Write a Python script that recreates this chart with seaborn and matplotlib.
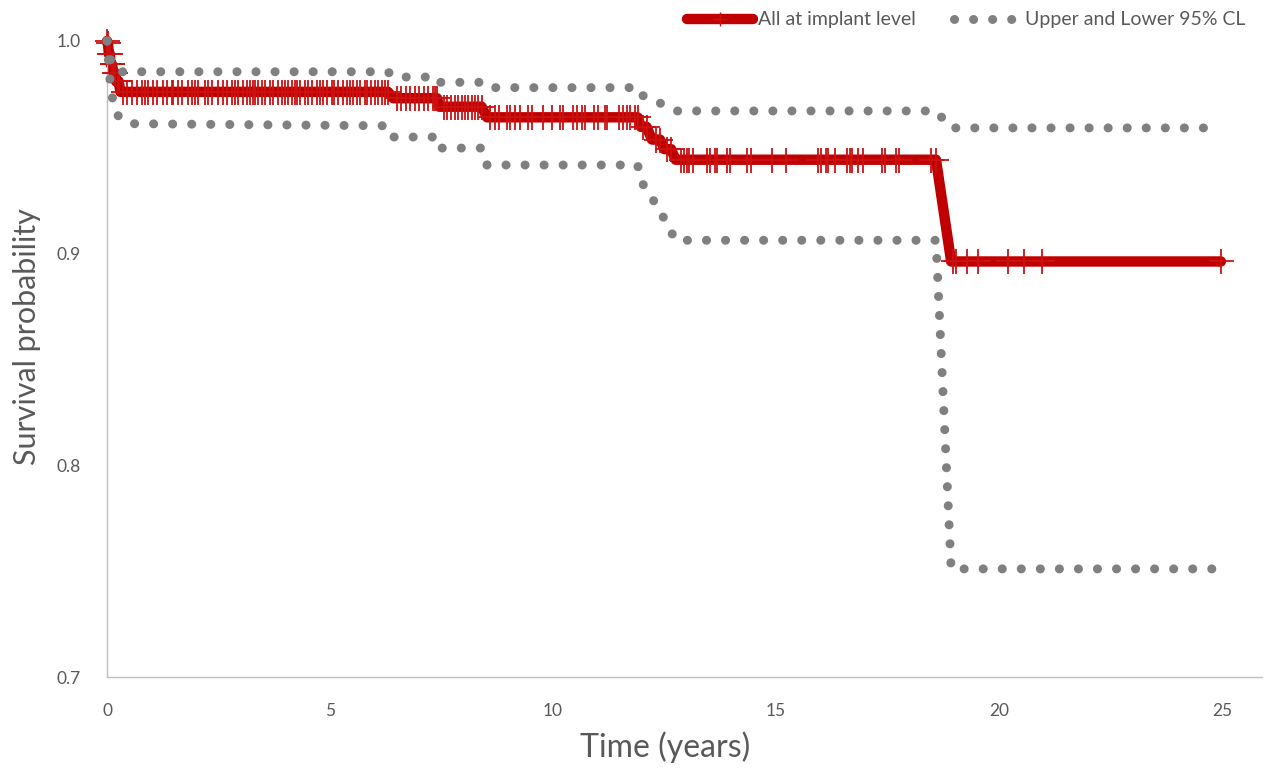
import numpy as np
import pandas as pd
import matplotlib
matplotlib.use("Agg")
import matplotlib.pyplot as plt
from matplotlib.lines import Line2D
import seaborn as sns

# Kaplan-Meier: event times and survival right after each event
event_time = [0.01, 0.04, 0.08, 0.14, 0.2, 0.3, 6.42, 7.45, 8.52,
              11.97, 12.22, 12.5, 12.75, 18.93]
event_surv = [0.999, 0.994, 0.989, 0.985, 0.981, 0.976, 0.973, 0.969, 0.964,
              0.9595, 0.9535, 0.949, 0.944, 0.896]

# censored observations (the "+" ticks)
censor_time = [
    0.0, 0.02, 0.05, 0.06, 0.1, 0.11, 0.16, 0.18, 0.24, 0.26,
    0.36, 0.45, 0.56, 0.67, 0.78, 0.85, 0.92, 1.03, 1.12, 1.25, 1.34, 1.46,
    1.48, 1.59, 1.68, 1.81, 1.9, 1.97, 2.04, 2.2, 2.26, 2.35, 2.49, 2.6, 2.69,
    2.8, 2.87, 2.94, 3.05, 3.14, 3.2, 3.27, 3.32, 3.38, 3.47, 3.54, 3.65, 3.72,
    3.83, 3.92, 3.99, 4.05, 4.14, 4.21, 4.26, 4.32, 4.44, 4.5, 4.59, 4.7, 4.77,
    4.84, 4.93, 5.04, 5.1, 5.17, 5.29, 5.38, 5.44, 5.51, 5.6, 5.67, 5.78, 5.84,
    5.93, 6.0, 6.07, 6.16, 6.23, 6.3,
    6.5, 6.6, 6.7, 6.8, 6.9, 7.0, 7.1, 7.2, 7.3, 7.35, 7.4,
    7.55, 7.63, 7.72, 7.8, 7.88, 7.95, 8.03, 8.1, 8.18, 8.26, 8.33, 8.4,
    8.58, 8.69, 8.8, 8.96, 9.03, 9.14, 9.25, 9.43, 9.54, 9.77, 9.97,
    10.15, 10.22, 10.44, 10.53, 10.66, 10.71, 10.93, 11.0, 11.16, 11.22,
    11.49, 11.56, 11.65, 11.72, 11.83, 11.9,
    12.02, 12.1, 12.3, 12.4, 12.55, 12.65,
    12.88, 12.93, 13.0, 13.06, 13.15, 13.46, 13.53, 13.64, 13.69, 13.91,
    13.98, 14.36, 14.45, 14.92, 15.23, 15.95, 16.02, 16.13, 16.17, 16.33,
    16.6, 16.67, 16.71, 16.85, 16.96, 17.38, 17.45, 17.7, 17.76, 18.48, 18.59,
    18.97, 19.04, 19.29, 19.53, 20.21, 20.56, 20.97, 24.98,
]

# 95% confidence limits (vertices)
ci_time = [0.0, 0.04, 0.08, 0.14, 0.2, 0.3, 0.5, 6.3, 6.42, 7.4, 7.45, 8.4,
           8.52, 11.9, 11.97, 12.22, 12.5, 12.75, 18.59, 18.93, 24.98]
ci_upper = [1.0, 0.995, 0.991, 0.988, 0.986, 0.9855, 0.9855, 0.9855, 0.983,
            0.983, 0.9805, 0.9805, 0.978, 0.978, 0.9745, 0.973, 0.9695, 0.967,
            0.967, 0.959, 0.959]
ci_lower = [1.0, 0.988, 0.978, 0.971, 0.966, 0.9635, 0.961, 0.960, 0.9547,
            0.9547, 0.9495, 0.9495, 0.9415, 0.9415, 0.934, 0.926, 0.916, 0.906,
            0.906, 0.751, 0.751]

x_ticks = [0, 5, 10, 15, 20, 25]
y_ticks = [0.7, 0.8, 0.9, 1.0]

RED = "#c00000"
GREY = "#808080"
TXT = "#595959"


def step_value(t):
    # KM survival at time t = value after the last event at or before t
    idx = np.searchsorted(event_time, t, side="right") - 1
    return 1.0 if idx < 0 else event_surv[idx]


censor = pd.DataFrame({"time": censor_time})
censor["surv"] = [step_value(t) for t in censor_time]
events = pd.DataFrame({"time": event_time, "surv": event_surv})
km = pd.concat([censor, events]).sort_values("time", kind="mergesort")
ci = pd.DataFrame({"time": ci_time, "upper": ci_upper, "lower": ci_lower})

sns.set_theme(style="white")
plt.rcParams["font.family"] = ["Lato", "DejaVu Sans"]

fig = plt.figure(figsize=(12.67, 7.69), dpi=100)
ax = fig.add_axes([0.0845, 0.1196, 0.9115, 0.8271])

sns.lineplot(data=km, x="time", y="surv", sort=False, estimator=None, ax=ax,
             color=RED, linewidth=7.5, solid_capstyle="round",
             solid_joinstyle="round", clip_on=False, zorder=2)
ax.plot(censor["time"], censor["surv"], linestyle="none", marker="+",
        markersize=18, markeredgewidth=1.3, color="#cc1111", clip_on=False,
        zorder=3)
dots = (0, (0.01, 2.1))
for col in ["upper", "lower"]:
    sns.lineplot(data=ci, x="time", y=col, sort=False, estimator=None, ax=ax,
                 color=GREY, linewidth=6.5, linestyle=dots,
                 dash_capstyle="round", clip_on=False, zorder=4)

ax.set_xlim(0, 25.9)
ax.set_ylim(0.7, 1.0)
ax.set_xticks(x_ticks)
ax.set_xticklabels([str(v) for v in x_ticks])
ax.set_yticks(y_ticks)
ax.set_yticklabels([f"{v:.1f}" for v in y_ticks])
ax.tick_params(axis="both", direction="out", length=5, width=1,
               color="#bfbfbf", labelcolor=TXT, labelsize=12.5)
ax.tick_params(axis="x", pad=14)
ax.tick_params(axis="y", pad=14)
for side in ["top", "right"]:
    ax.spines[side].set_visible(False)
for side in ["left", "bottom"]:
    ax.spines[side].set_color("#bfbfbf")
    ax.spines[side].set_linewidth(1)

ax.set_xlabel("Time (years)", fontsize=23, color=TXT)
ax.xaxis.set_label_coords(0.483, -0.085)
ax.set_ylabel("Survival probability", fontsize=22, color=TXT)
ax.yaxis.set_label_coords(-0.057, 0.535)

handles = [
    Line2D([], [], color=RED, linewidth=7.5, solid_capstyle="round",
           marker="+", markersize=10, markeredgewidth=1.0,
           markeredgecolor="#cc1111"),
    Line2D([], [], color=GREY, linewidth=6.5, linestyle=dots,
           dash_capstyle="round"),
]
fig.legend(handles, ["All at implant level", "Upper and Lower 95% CL"],
           loc="upper right", bbox_to_anchor=(0.997, 1.008), ncol=2,
           frameon=False, fontsize=14, labelcolor=TXT, handlelength=3.4,
           handletextpad=0.25, columnspacing=2.0)

fig.savefig("out.png", dpi=100)
